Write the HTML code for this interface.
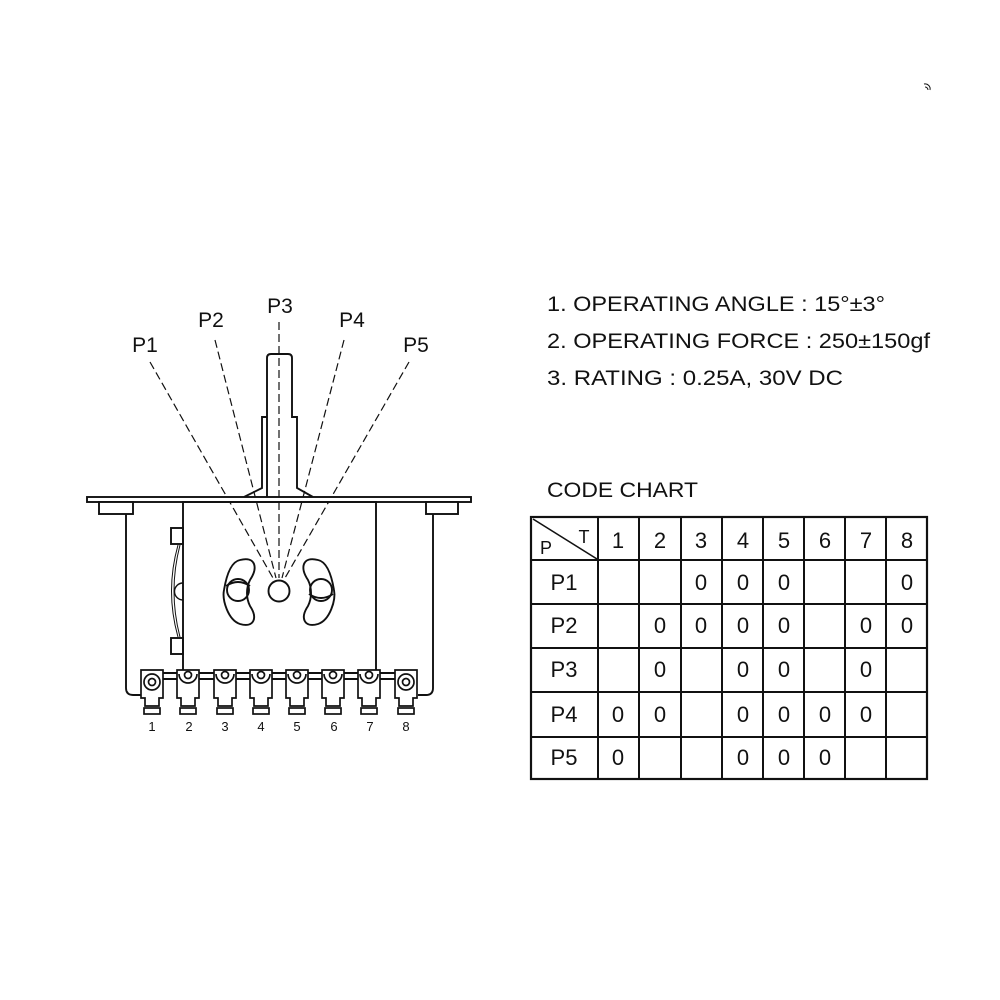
<!DOCTYPE html>
<html><head><style>
html,body{margin:0;padding:0;background:#fff;}
svg{display:block;}
text{font-family:"Liberation Sans",sans-serif;fill:#111;}
</style></head><body>
<svg width="1000" height="1000" viewBox="0 0 1000 1000" xmlns="http://www.w3.org/2000/svg">
<g stroke="#111" fill="none" stroke-width="1.9">
  <g stroke-dasharray="8,4" stroke-width="1.2">
    <line x1="150" y1="362" x2="273" y2="578"/>
    <line x1="215" y1="340" x2="276" y2="578"/>
    <line x1="279" y1="322" x2="279" y2="578"/>
    <line x1="344" y1="340" x2="282" y2="578"/>
    <line x1="409" y1="362" x2="285" y2="578"/>
  </g>
  <path d="M267 497 L267 358 Q267 354 271 354 L288 354 Q292 354 292 358 L292 417 L297 417 L297 488 L313 497 M267 417 L262 417 L262 488 L244 497" fill="none"/>
  <rect x="87" y="497" width="384" height="5" fill="#fff"/>
  <rect x="99" y="502" width="34" height="12" fill="#fff"/>
  <rect x="426" y="502" width="32" height="12" fill="#fff"/>
  <rect x="183" y="502" width="193" height="171" fill="none"/>
  <path d="M126 514 L126 688 Q126 695 133 695 L142 695"/>
  <path d="M433 514 L433 688 Q433 695 426 695 L418 695"/>
  <rect x="171" y="528" width="12" height="16"/>
  <rect x="171" y="638" width="12" height="16"/>
  <path d="M178 545 Q165 591 178 637" stroke-width="1"/>
  <path d="M180 545 Q168 591 180 637" stroke-width="1"/>
  <path d="M183 583 A8 8 0 0 0 183 600" stroke-width="1.4"/>
  <path d="M240 560 C256 556 258 568 250 580 C246 588 246 598 250 606 C258 618 254 628 240 624 C228 620 222 600 224 590 C226 578 230 562 240 560 Z"/>
  <circle cx="238" cy="590" r="11"/>
  <path d="M226 586 Q238 578 250 586"/>
  <path d="M318 560 C302 556 300 568 308 580 C312 588 312 598 308 606 C300 618 304 628 318 624 C330 620 336 600 334 590 C332 578 328 562 318 560 Z"/>
  <circle cx="321" cy="590" r="11"/>
  <path d="M309 594 Q321 602 333 594"/>
  <circle cx="279" cy="591" r="10.5"/>
  <line x1="160" y1="673" x2="398" y2="673"/>
  <line x1="160" y1="679" x2="398" y2="679"/>
  <g stroke-width="1.7">
    <g><path d="M141 670 L163 670 L163 698 L159 698 L159 706 L145 706 L145 698 L141 698 Z" fill="#fff"/><circle cx="152" cy="682" r="8" fill="#fff"/><circle cx="152" cy="682" r="3.5"/><rect x="144" y="708" width="16" height="6"/></g>
    <g transform="translate(36,0)"><path d="M141 670 L163 670 L163 698 L159 698 L159 706 L145 706 L145 698 L141 698 Z" fill="#fff"/><path d="M143 674 A9 9 0 0 0 161 674"/><circle cx="152" cy="675" r="3.5"/><rect x="144" y="708" width="16" height="6"/></g>
    <g transform="translate(73,0)"><path d="M141 670 L163 670 L163 698 L159 698 L159 706 L145 706 L145 698 L141 698 Z" fill="#fff"/><path d="M143 674 A9 9 0 0 0 161 674"/><circle cx="152" cy="675" r="3.5"/><rect x="144" y="708" width="16" height="6"/></g>
    <g transform="translate(109,0)"><path d="M141 670 L163 670 L163 698 L159 698 L159 706 L145 706 L145 698 L141 698 Z" fill="#fff"/><path d="M143 674 A9 9 0 0 0 161 674"/><circle cx="152" cy="675" r="3.5"/><rect x="144" y="708" width="16" height="6"/></g>
    <g transform="translate(145,0)"><path d="M141 670 L163 670 L163 698 L159 698 L159 706 L145 706 L145 698 L141 698 Z" fill="#fff"/><path d="M143 674 A9 9 0 0 0 161 674"/><circle cx="152" cy="675" r="3.5"/><rect x="144" y="708" width="16" height="6"/></g>
    <g transform="translate(181,0)"><path d="M141 670 L163 670 L163 698 L159 698 L159 706 L145 706 L145 698 L141 698 Z" fill="#fff"/><path d="M143 674 A9 9 0 0 0 161 674"/><circle cx="152" cy="675" r="3.5"/><rect x="144" y="708" width="16" height="6"/></g>
    <g transform="translate(217,0)"><path d="M141 670 L163 670 L163 698 L159 698 L159 706 L145 706 L145 698 L141 698 Z" fill="#fff"/><path d="M143 674 A9 9 0 0 0 161 674"/><circle cx="152" cy="675" r="3.5"/><rect x="144" y="708" width="16" height="6"/></g>
    <g transform="translate(254,0)"><path d="M141 670 L163 670 L163 698 L159 698 L159 706 L145 706 L145 698 L141 698 Z" fill="#fff"/><circle cx="152" cy="682" r="8" fill="#fff"/><circle cx="152" cy="682" r="3.5"/><rect x="144" y="708" width="16" height="6"/></g>
  </g>
  <rect x="531" y="517" width="396" height="262" stroke-width="2.2"/>
  <g stroke-width="2">
    <line x1="598" y1="517" x2="598" y2="779"/>
    <line x1="639" y1="517" x2="639" y2="779"/>
    <line x1="681" y1="517" x2="681" y2="779"/>
    <line x1="722" y1="517" x2="722" y2="779"/>
    <line x1="763" y1="517" x2="763" y2="779"/>
    <line x1="804" y1="517" x2="804" y2="779"/>
    <line x1="845" y1="517" x2="845" y2="779"/>
    <line x1="886" y1="517" x2="886" y2="779"/>
    <line x1="531" y1="560" x2="927" y2="560"/>
    <line x1="531" y1="604" x2="927" y2="604"/>
    <line x1="531" y1="648" x2="927" y2="648"/>
    <line x1="531" y1="692" x2="927" y2="692"/>
    <line x1="531" y1="737" x2="927" y2="737"/>
    <line x1="533" y1="519" x2="597" y2="559" stroke-width="1.6"/>
  </g>
  <path d="M924 84 A5 5 0 0 1 930 90 M925 87 A3 3 0 0 1 928 90" stroke-width="1"/>
</g>
<g font-size="13" text-anchor="middle">
  <text x="152" y="731">1</text><text x="189" y="731">2</text><text x="225" y="731">3</text><text x="261" y="731">4</text><text x="297" y="731">5</text><text x="334" y="731">6</text><text x="370" y="731">7</text><text x="406" y="731">8</text>
</g>
<g font-size="21" text-anchor="middle">
  <text x="145" y="352">P1</text><text x="211" y="327">P2</text><text x="280" y="313">P3</text><text x="352" y="327">P4</text><text x="416" y="352">P5</text>
</g>
<g font-size="21">
  <text x="547" y="311" textLength="338" lengthAdjust="spacingAndGlyphs">1.  OPERATING  ANGLE : 15°±3°</text>
  <text x="547" y="348" textLength="383" lengthAdjust="spacingAndGlyphs">2.  OPERATING  FORCE : 250±150gf</text>
  <text x="547" y="385" textLength="296" lengthAdjust="spacingAndGlyphs">3.  RATING : 0.25A, 30V DC</text>
  <text x="547" y="497" textLength="151" lengthAdjust="spacingAndGlyphs">CODE  CHART</text>
</g>
<g font-size="22" text-anchor="middle">
  <text x="546" y="554" font-size="18">P</text><text x="584" y="543" font-size="18">T</text>
  <text x="618" y="548">1</text><text x="660" y="548">2</text><text x="701" y="548">3</text><text x="743" y="548">4</text><text x="784" y="548">5</text><text x="825" y="548">6</text><text x="866" y="548">7</text><text x="907" y="548">8</text>
  <text x="564" y="590">P1</text><text x="564" y="633">P2</text><text x="564" y="677">P3</text><text x="564" y="722">P4</text><text x="564" y="765">P5</text>
  <text x="701" y="590">0</text><text x="743" y="590">0</text><text x="784" y="590">0</text><text x="907" y="590">0</text>
  <text x="660" y="633">0</text><text x="701" y="633">0</text><text x="743" y="633">0</text><text x="784" y="633">0</text><text x="866" y="633">0</text><text x="907" y="633">0</text>
  <text x="660" y="677">0</text><text x="743" y="677">0</text><text x="784" y="677">0</text><text x="866" y="677">0</text>
  <text x="618" y="722">0</text><text x="660" y="722">0</text><text x="743" y="722">0</text><text x="784" y="722">0</text><text x="825" y="722">0</text><text x="866" y="722">0</text>
  <text x="618" y="765">0</text><text x="743" y="765">0</text><text x="784" y="765">0</text><text x="825" y="765">0</text>
</g>
</svg>
</body></html>
